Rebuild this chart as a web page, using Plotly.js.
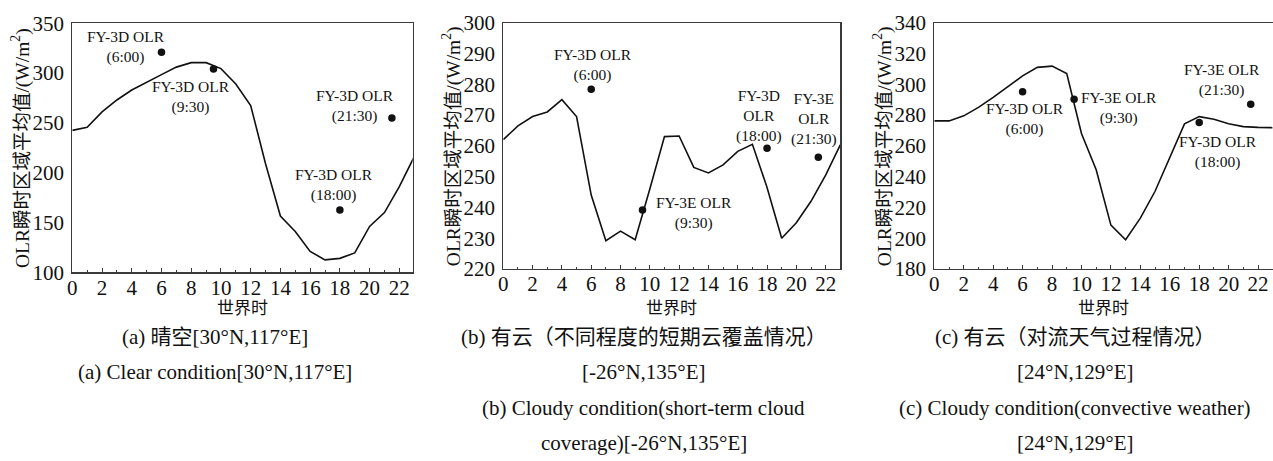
<!DOCTYPE html>
<html>
<head>
<meta charset="utf-8">
<script src="https://cdn.plot.ly/plotly-3.0.1.min.js"></script>
<style>
  html, body { margin: 0; padding: 0; background: #fff; }
  #chart { width: 1273px; height: 461px; }
</style>
</head>
<body>
<div id="chart"></div>
<script>
// Hourly regional-mean instantaneous OLR (W/m²), UTC 0–23
const hours = [0, 1, 2, 3, 4, 5, 6, 7, 8, 9, 10, 11, 12, 13, 14, 15, 16, 17, 18, 19, 20, 21, 22, 23];
const clearOLR = [242.5, 245.5, 261, 273, 283, 291, 298.5, 306, 310.5, 310.5, 304.5, 289, 267.5, 209, 156.5, 141, 121, 112.5, 114, 119.5, 146, 160, 186, 216];
const shortCloudOLR = [262, 266.5, 269.5, 271, 275, 269.5, 244, 229.2, 232.3, 229.5, 246, 263, 263.2, 253, 251.2, 253.8, 258.2, 260.5, 246.5, 230, 235, 242, 250.5, 260.3];
const convectiveOLR = [276.2, 276.2, 279.5, 285, 291.5, 298.5, 305.5, 311, 311.8, 307, 268, 244.5, 208.5, 199, 213, 230.5, 253, 274.3, 279, 277.3, 274.3, 272.5, 272, 271.8];

// Satellite overpass times (UTC hours) and retrieved OLR
const passHours = [6, 9.5, 18, 21.5];
const clearPass = [321, 304, 162.5, 255];
const shortCloudPass = [278.4, 239.2, 259.2, 256.3];
const convectivePass = [295.2, 290.3, 275.1, 287];

// Overpass labels, in the same order as passHours
const clearLabels = ["FY-3D OLR<br>(6:00)", "FY-3D OLR<br>(9:30)", "FY-3D OLR<br>(18:00)", "FY-3D OLR<br>(21:30)"];
const shortCloudLabels = ["FY-3D OLR<br>(6:00)", "FY-3E OLR<br>(9:30)", "FY-3D<br>OLR<br>(18:00)", "FY-3E<br>OLR<br>(21:30)"];
const convectiveLabels = ["FY-3D OLR<br>(6:00)", "FY-3E OLR<br>(9:30)", "FY-3D OLR<br>(18:00)", "FY-3E OLR<br>(21:30)"];

// Axis settings per panel
const yRanges = [[100, 350], [220, 300], [180, 340]];
const yDticks = [50, 10, 20];
const xTickVals = [0, 2, 4, 6, 8, 10, 12, 14, 16, 18, 20, 22];

// Text
const yTitle = "OLR瞬时区域平均值/(W/m<sup>2</sup>)";
const xTitle = "世界时";
const captions = [
  ["(a) 晴空[30°N,117°E]", "(a) Clear condition[30°N,117°E]"],
  ["(b) 有云（不同程度的短期云覆盖情况）", "[-26°N,135°E]", "(b) Cloudy condition(short-term cloud", "coverage)[-26°N,135°E]"],
  ["(c) 有云（对流天气过程情况）", "[24°N,129°E]", "(c) Cloudy condition(convective weather)", "[24°N,129°E]"]
];

// ---- layout geometry (pixels) ----
const W = 1273, H = 461;
const panels = [
  { left: 72.3, right: 412.7, top: 23.3, bottom: 272.3, xmax: 22.9 },
  { left: 503.3, right: 840.3, top: 22.7, bottom: 269, xmax: 23.0 },
  { left: 934.3, right: 1272.5, top: 22.7, bottom: 269, xmax: 22.98 }
];
// label centres in data units (x in hours, y in W/m²)
const labelSpots = [
  [[3.63, 326], [7.96, 276], [17.6, 187.5], [19.0, 267]],
  [[6.12, 286.3], [13.0, 238.2], [17.42, 269.7], [21.19, 268.8]],
  [[6.17, 277.7], [12.52, 284.6], [19.31, 256.1], [19.53, 303]]
];
const captionRowsY = [337, 372, 408, 443];
const captionShift = -28;

const LATIN = "Liberation Serif";
const SERIF = "Liberation Serif, Noto Sans CJK SC, serif";
const INK = "#111111";
const FRAME = "#3a3a3a";

const series = [clearOLR, shortCloudOLR, convectiveOLR];
const passes = [clearPass, shortCloudPass, convectivePass];
const labels = [clearLabels, shortCloudLabels, convectiveLabels];

const px2x = p => p / W;
const px2y = p => (H - p) / H;

const data = [];
const layout = {
  width: W, height: H,
  margin: { l: 0, r: 0, t: 0, b: 0 },
  paper_bgcolor: "#ffffff",
  plot_bgcolor: "#ffffff",
  showlegend: false,
  font: { family: SERIF, color: INK },
  annotations: []
};

panels.forEach((p, i) => {
  const sfx = i === 0 ? "" : String(i + 1);
  const xa = "x" + sfx, ya = "y" + sfx;

  data.push({
    type: "scatter", mode: "lines",
    x: hours, y: series[i],
    xaxis: xa, yaxis: ya,
    line: { color: INK, width: 1.6 },
    cliponaxis: true, hoverinfo: "skip"
  });
  data.push({
    type: "scatter", mode: "markers",
    x: passHours, y: passes[i],
    xaxis: xa, yaxis: ya,
    marker: { color: INK, size: 7.5, symbol: "circle" },
    hoverinfo: "skip"
  });

  layout["xaxis" + sfx] = {
    domain: [px2x(p.left), px2x(p.right)],
    anchor: ya,
    range: [0, p.xmax],
    tickmode: "array", tickvals: xTickVals,
    ticks: "inside", ticklen: 4, tickwidth: 1, tickcolor: FRAME,
    minor: { dtick: 1, ticks: "inside", ticklen: 2.5, tickwidth: 1, tickcolor: FRAME },
    showline: true, linecolor: FRAME, linewidth: 1.2, mirror: true,
    showgrid: false, zeroline: false,
    ticklabelstandoff: -4,
    tickfont: { family: LATIN, size: 21, color: INK },
    automargin: false, fixedrange: true
  };
  layout["yaxis" + sfx] = {
    domain: [px2y(p.bottom), px2y(p.top)],
    anchor: xa,
    range: yRanges[i],
    dtick: yDticks[i],
    ticks: "",
    showline: true, linecolor: FRAME, linewidth: 1.2, mirror: true,
    showgrid: false, zeroline: false,
    ticklabelstandoff: 3,
    tickfont: { family: LATIN, size: 21, color: INK },
    automargin: false, fixedrange: true
  };

  // overpass labels
  labels[i].forEach((t, k) => {
    layout.annotations.push({
      xref: xa, yref: ya,
      x: labelSpots[i][k][0], y: labelSpots[i][k][1],
      text: t, showarrow: false,
      xanchor: "center", yanchor: "middle", align: "center",
      font: { family: LATIN, size: 15.5, color: INK }
    });
  });

  // y-axis title
  layout.annotations.push({
    xref: "paper", yref: "paper",
    x: px2x(p.left - 51), y: px2y((p.top + p.bottom) / 2),
    text: yTitle, textangle: -90, showarrow: false,
    xanchor: "center", yanchor: "middle",
    font: { family: SERIF, size: 19.5, color: INK }
  });

  // x-axis title
  const cx = (p.left + p.right) / 2;
  layout.annotations.push({
    xref: "paper", yref: "paper",
    x: px2x(cx), y: px2y(308),
    text: xTitle, showarrow: false,
    xanchor: "center", yanchor: "middle",
    font: { family: SERIF, size: 17, color: INK }
  });

  // figure captions
  captions[i].forEach((c, r) => {
    layout.annotations.push({
      xref: "paper", yref: "paper",
      x: px2x(cx + captionShift), y: px2y(captionRowsY[r]),
      text: c, showarrow: false,
      xanchor: "center", yanchor: "middle",
      font: { family: SERIF, size: 21, color: INK }
    });
  });
});

Plotly.newPlot("chart", data, layout, { staticPlot: true, displayModeBar: false });
</script>
</body>
</html>
